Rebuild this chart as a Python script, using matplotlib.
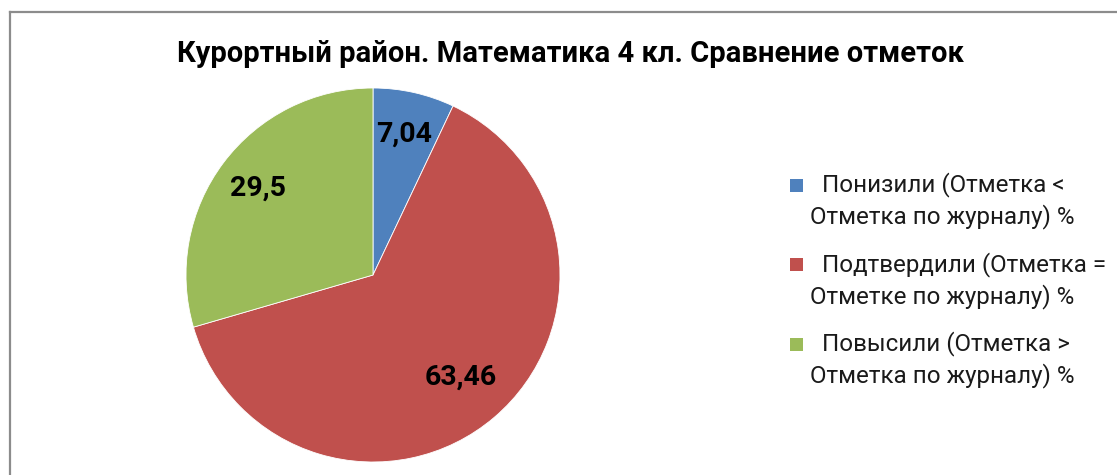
import matplotlib.pyplot as plt
from matplotlib.lines import Line2D
from matplotlib.patches import Rectangle

# data
values = [7.04, 63.46, 29.5]
value_labels = ['7,04', '63,46', '29,5']
categories = [
    ['Понизили (Отметка <', 'Отметка по журналу) %'],
    ['Подтвердили (Отметка =', 'Отметке по журналу) %'],
    ['Повысили (Отметка >', 'Отметка по журналу) %'],
]
colors = ['#4f81bd', '#c0504d', '#9bbb59']
title = 'Курортный район. Математика 4 кл. Сравнение отметок'

plt.rcParams['font.family'] = ['Roboto', 'DejaVu Sans']

W, H = 1117, 475
fig = plt.figure(figsize=(W / 100, H / 100), dpi=100)

# pie axes: center (373, 275) px, radius 187 px
cx, cy, r = 373, 275, 187
ax = fig.add_axes([(cx - r) / W, (H - cy - r) / H, 2 * r / W, 2 * r / H])

lab_iter = iter(value_labels)
wedges, texts, autotexts = ax.pie(
    values, colors=colors, startangle=90, counterclock=False,
    autopct=lambda p: next(lab_iter), pctdistance=0.77,
    wedgeprops=dict(linewidth=0.6, edgecolor='white'),
    textprops=dict(fontsize=20.5, fontweight='bold', color='black'),
)
# the big slice label sits a little nearer the centre
x, y = autotexts[1].get_position()
autotexts[1].set_position((x * 0.72 / 0.77, y * 0.72 / 0.77))
ax.set_xlim(-1, 1)
ax.set_ylim(-1, 1)
ax.set_aspect('equal')

fig.text(570 / W, 1 - 54 / H, title, ha='center', va='center',
         fontsize=21, fontweight='bold')

# legend drawn by hand: marker on the first line, hanging indent
for i, (lines, col) in enumerate(zip(categories, colors)):
    y0 = 185 + i * 79.5
    fig.add_artist(Rectangle((790 / W, 1 - (y0 + 6.5) / H), 13 / W, 13 / H,
                             transform=fig.transFigure, facecolor=col,
                             edgecolor='none'))
    fig.text(822 / W, 1 - y0 / H, lines[0], ha='left', va='center',
             fontsize=17.4, color='#1a1a1a')
    fig.text(810 / W, 1 - (y0 + 32) / H, lines[1], ha='left', va='center',
             fontsize=17.4, color='#1a1a1a')

# chart frame (cut off at right and bottom)
frame_kw = dict(color='#8c8c8c', linewidth=1.6, transform=fig.transFigure)
fig.add_artist(Line2D([10 / W, 10 / W], [0, 1 - 12 / H], **frame_kw))
fig.add_artist(Line2D([10 / W, 1], [1 - 12 / H, 1 - 12 / H], **frame_kw))

fig.savefig('out.png', dpi=100)
